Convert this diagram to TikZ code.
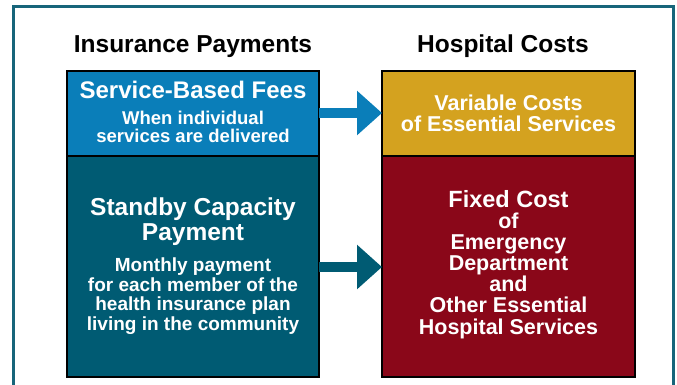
\documentclass[tikz,border=0pt]{standalone}
\usepackage{fontspec}
\setmainfont{Liberation Sans}
\usetikzlibrary{arrows.meta}
\definecolor{fblue}{HTML}{0A7EB9}
\definecolor{fteal}{HTML}{005B73}
\definecolor{fgold}{HTML}{D4A21F}
\definecolor{fred}{HTML}{8A0719}
\definecolor{fframe}{HTML}{17657A}
\begin{document}
\begin{tikzpicture}[x=1pt,y=-1pt,
  box/.style={draw=black,line width=2pt},
  txt/.style={inner sep=0pt,anchor=base,align=center,text=white,font=\bfseries},
  title/.style={inner sep=0pt,anchor=base,text=black,font=\bfseries\fontsize{24.5}{29}\selectfont},
  bigarrow/.style={line width=10pt,-{Triangle[length=25pt,width=43pt]}}]
\useasboundingbox (0,0) rectangle (677,384);
% outer frame
\draw[fframe,line width=2.5pt] (13.5,385) -- (13.5,6.5) -- (673.5,6.5) -- (673.5,385);
% titles
\node[title] (t1) at (193,52) {Insurance Payments};
\node[title] (t2) at (503,52) {Hospital Costs};
% boxes
\path[box,fill=fblue] (67,71) rectangle (319,156);
\path[box,fill=fteal] (67,156) rectangle (319,377);
\path[box,fill=fgold] (382,71) rectangle (635,156);
\path[box,fill=fred] (382,156) rectangle (635,377);
\coordinate (ltop) at (319,113);
\coordinate (rtop) at (382,113);
\coordinate (lbot) at (319,267);
\coordinate (rbot) at (382,267);
% texts (anchor base = baseline of last line)
\node[txt,font=\bfseries\fontsize{24}{28}\selectfont] (sbf) at (193,98) {Service-Based Fees};
\node[txt,font=\bfseries\fontsize{18.5}{18}\selectfont] (sbfsub) at (193,142.5) {When individual\\services are delivered};
\node[txt,font=\bfseries\fontsize{21.5}{21}\selectfont] (vc) at (508.5,131) {Variable Costs\\of Essential Services};
\node[txt,font=\bfseries\fontsize{24.5}{25}\selectfont] (scp) at (193,240) {Standby Capacity\\Payment};
\node[txt,font=\bfseries\fontsize{19}{19.4}\selectfont] (scpsub) at (193,330) {Monthly payment\\for each member of the\\health insurance plan\\living in the community};
\node[txt,font=\bfseries\fontsize{23.5}{28}\selectfont] (fc) at (508.5,207) {Fixed Cost};
\node[txt,font=\bfseries\fontsize{21.5}{21.2}\selectfont] (fcsub) at (508.5,334) {of\\Emergency\\Department\\and\\Other Essential\\Hospital Services};
% arrows
\draw[bigarrow,fblue] (ltop) -- (rtop);
\draw[bigarrow,fteal] (lbot) -- (rbot);
\end{tikzpicture}
\end{document}
